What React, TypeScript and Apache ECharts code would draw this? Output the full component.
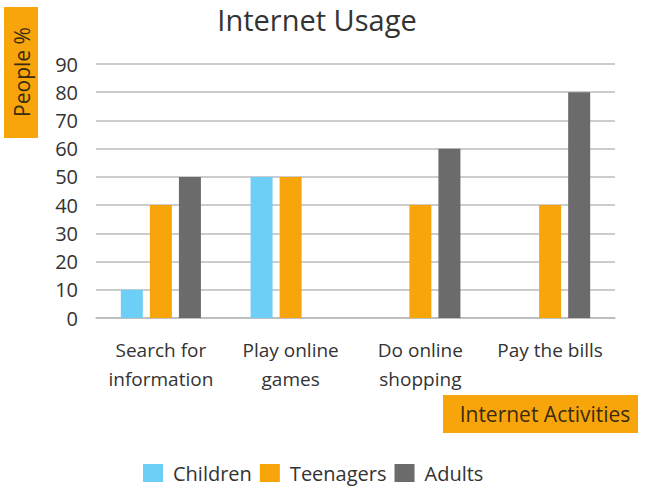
import React, { useEffect, useRef } from "react";
import * as echarts from "echarts";

const categories = ["Search for\ninformation", "Play online\ngames", "Do online\nshopping", "Pay the bills"];
const children = [10, 50, 0, 0];
const teenagers = [40, 50, 40, 40];
const adults = [50, 0, 60, 80];
const seriesNames = ["Children", "Teenagers", "Adults"];
const colors = ["#6DCFF6", "#F8A50B", "#6B6B6B"];

const FONT = "'Open Sans', sans-serif";
const TEXT = "#333333";

export default function App() {
  const ref = useRef<HTMLDivElement>(null);
  useEffect(() => {
    document.body.style.margin = "0";
    const chart = echarts.init(ref.current!, null, { renderer: "svg" });
    const data = [children, teenagers, adults];
    chart.setOption({
      animation: false,
      color: colors,
      textStyle: { fontFamily: FONT, color: TEXT },
      title: {
        text: "Internet Usage",
        left: 312,
        top: 0,
        textAlign: "center",
        textStyle: { fontFamily: FONT, fontSize: 29, fontWeight: "normal", color: TEXT },
      },
      grid: { left: 96, right: 35, top: 64, bottom: 174, containLabel: false },
      legend: {
        bottom: 4,
        left: 138,
        itemWidth: 20,
        itemHeight: 18,
        itemGap: 8,
        icon: "rect",
        textStyle: { fontFamily: FONT, fontSize: 20, color: TEXT, padding: [0, 0, 0, 5] },
        data: seriesNames,
      },
      xAxis: {
        type: "category",
        data: categories,
        axisLine: { lineStyle: { color: "#bbbbbb", width: 1.5 } },
        axisTick: { show: false },
        axisLabel: { fontFamily: FONT, fontSize: 19, color: TEXT, lineHeight: 29, margin: 17, interval: 0 },
      },
      yAxis: {
        type: "value",
        min: 0,
        max: 90,
        interval: 10,
        axisLine: { show: false },
        axisTick: { show: false },
        splitLine: { lineStyle: { color: "#bbbbbb", width: 1.5 } },
        axisLabel: { fontFamily: FONT, fontSize: 20, color: TEXT, margin: 18 },
      },
      series: seriesNames.map((name, i) => ({
        name,
        type: "bar",
        data: data[i],
        barWidth: 22,
        barGap: "32%",
        itemStyle: { color: colors[i] },
      })),
      graphic: [
        { type: "rect", shape: { x: 4, y: 7, width: 34, height: 131 }, style: { fill: "#F8A50B" } },
        {
          type: "text",
          x: 22,
          y: 72,
          rotation: Math.PI / 2,
          style: {
            text: "People %",
            fontFamily: FONT,
            fontSize: 21,
            fill: "#3a2c10",
            align: "center",
            verticalAlign: "middle",
          },
        },
        { type: "rect", shape: { x: 443, y: 395, width: 195, height: 38 }, style: { fill: "#F8A50B" } },
        {
          type: "text",
          x: 545,
          y: 414,
          style: {
            text: "Internet Activities",
            fontFamily: FONT,
            fontSize: 21,
            fill: "#3a2c10",
            align: "center",
            verticalAlign: "middle",
          },
        },
      ],
    });
    return () => chart.dispose();
  }, []);
  return <div ref={ref} style={{ width: 650, height: 492 }} />;
}
